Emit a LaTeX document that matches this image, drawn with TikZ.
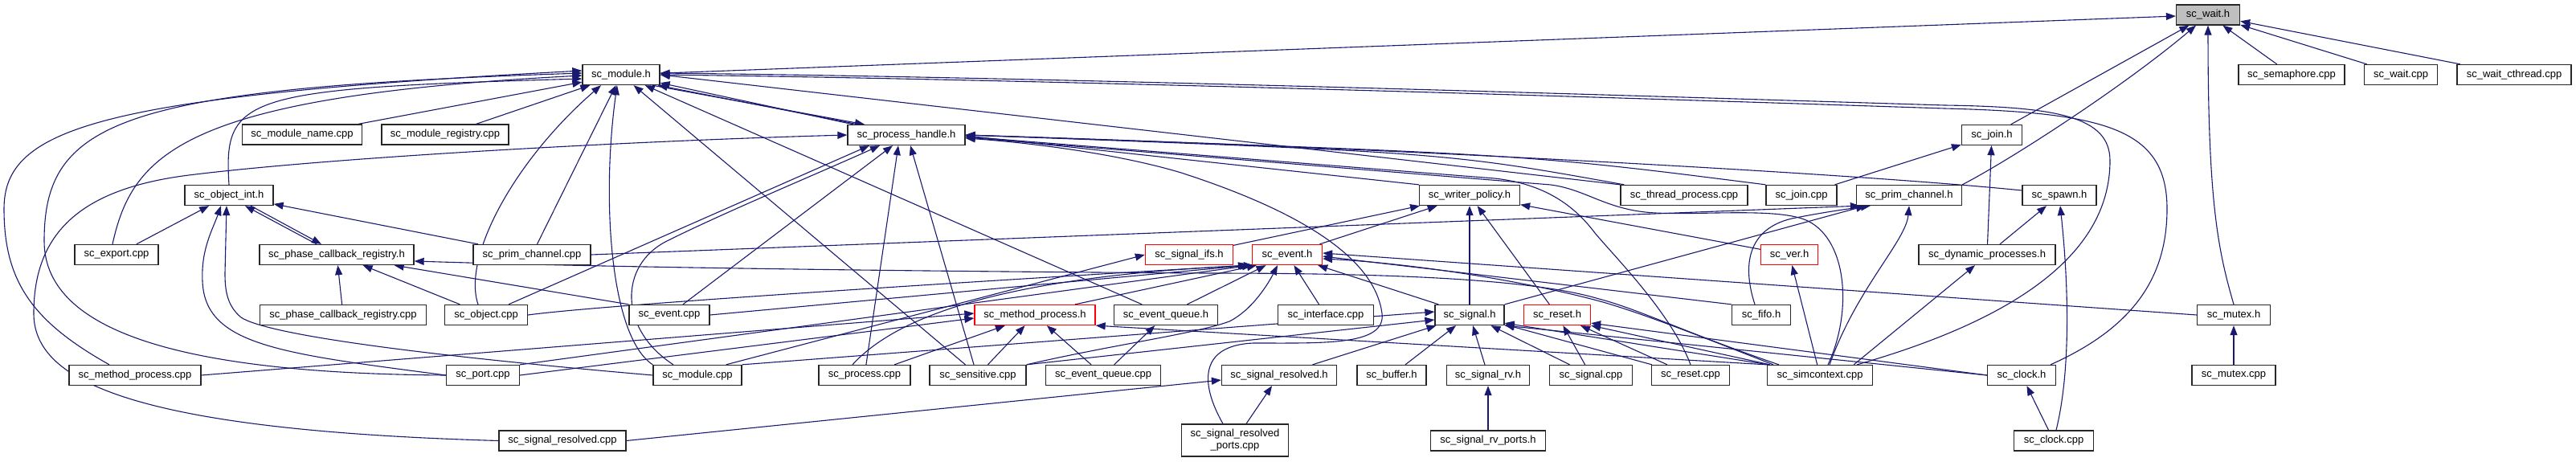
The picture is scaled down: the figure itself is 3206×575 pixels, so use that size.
\documentclass[tikz,border=0pt]{standalone}
\usepackage{fontspec}
\setmainfont{Liberation Sans}
\usetikzlibrary{arrows.meta}
\pgfdeclarelayer{bg}
\pgfsetlayers{bg,main}
\definecolor{edgec}{HTML}{191970}
\definecolor{grayfill}{HTML}{BFBFBF}
\tikzset{
  nd/.style={draw=black!85, line width=1.3pt, fill=white, rectangle, inner sep=0pt,
     minimum height=25pt, font=\fontsize{13}{15}\selectfont, text=black},
  rn/.style={nd, draw=red},
  lk/.style={draw=edgec, line width=1.1pt, -{Triangle[length=12pt,width=9pt]}}
}
\begin{document}
\begin{tikzpicture}[x=1pt,y=-1pt]
\useasboundingbox (0,0) rectangle (3206,575);
% row 0
\node[nd, fill=grayfill, minimum width=79pt] (wait) at (2748,18.5) {sc\_wait.h};
% row 1
\node[nd, minimum width=132pt] (semaphore) at (2852,93) {sc\_semaphore.cpp};
\node[nd, minimum width=91pt] (waitcpp) at (2988,93) {sc\_wait.cpp};
\node[nd, minimum width=142pt] (waitct) at (3129,93) {sc\_wait\_cthread.cpp};
\node[nd, minimum width=96pt] (module) at (773,93) {sc\_module.h};
% row 1.5
\node[nd, minimum width=149pt] (modname) at (376,167.5) {sc\_module\_name.cpp};
\node[nd, minimum width=158pt] (modreg) at (554,167.5) {sc\_module\_registry.cpp};
\node[nd, minimum width=146pt] (ph) at (1128,168) {sc\_process\_handle.h};
\node[nd, minimum width=75pt] (joinh) at (2479,168) {sc\_join.h};
% row 2
\node[nd, minimum width=110pt] (objint) at (285,243) {sc\_object\_int.h};
\node[nd, minimum width=125pt] (wp) at (1829,243) {sc\_writer\_policy.h};
\node[nd, minimum width=158pt] (thread) at (2096,243) {sc\_thread\_process.cpp};
\node[nd, minimum width=88pt] (joincpp) at (2242,243) {sc\_join.cpp};
\node[nd, minimum width=131pt] (primh) at (2376,243) {sc\_prim\_channel.h};
\node[nd, minimum width=92pt] (spawn) at (2563,243) {sc\_spawn.h};
% row 3
\node[nd, minimum width=104pt] (export) at (145,317) {sc\_export.cpp};
\node[nd, minimum width=192pt] (pcrh) at (419,317) {sc\_phase\_callback\_registry.h};
\node[nd, minimum width=146pt] (primcpp) at (662,317) {sc\_prim\_channel.cpp};
\node[rn, minimum width=109pt] (sigifs) at (1480,317) {sc\_signal\_ifs.h};
\node[rn, minimum width=87pt] (eventh) at (1602,317) {sc\_event.h};
\node[rn, minimum width=71pt] (ver) at (2227,317) {sc\_ver.h};
\node[nd, minimum width=170pt] (dyn) at (2473,317) {sc\_dynamic\_processes.h};
% row 4
\node[nd, minimum width=207pt] (pcrcpp) at (427,392) {sc\_phase\_callback\_registry.cpp};
\node[nd, minimum width=103pt] (objcpp) at (605,392) {sc\_object.cpp};
\node[nd, minimum width=100pt] (eventcpp) at (833,392) {sc\_event.cpp};
\node[rn, minimum width=150pt] (mph) at (1288,392) {sc\_method\_process.h};
\node[nd, minimum width=129pt] (eqh) at (1451,392) {sc\_event\_queue.h};
\node[nd, minimum width=119pt] (ifcpp) at (1650,392) {sc\_interface.cpp};
\node[nd, minimum width=86pt] (sigh) at (1829,392) {sc\_signal.h};
\node[rn, minimum width=83pt] (reseth) at (1938,392) {sc\_reset.h};
\node[nd, minimum width=73pt] (fifo) at (2192,392) {sc\_fifo.h};
\node[nd, minimum width=91pt] (mutexh) at (2780,392) {sc\_mutex.h};
% row 5
\node[nd, minimum width=164pt] (mpcpp) at (168,467) {sc\_method\_process.cpp};
\node[nd, minimum width=91pt] (port) at (601,467) {sc\_port.cpp};
\node[nd, minimum width=110pt] (modcpp) at (868,467) {sc\_module.cpp};
\node[nd, minimum width=114pt] (proccpp) at (1076,467) {sc\_process.cpp};
\node[nd, minimum width=120pt] (sens) at (1217,467) {sc\_sensitive.cpp};
\node[nd, minimum width=143pt] (eqcpp) at (1373,467) {sc\_event\_queue.cpp};
\node[nd, minimum width=143pt] (sigresh) at (1592,467) {sc\_signal\_resolved.h};
\node[nd, minimum width=86pt] (buffer) at (1732,467) {sc\_buffer.h};
\node[nd, minimum width=103pt] (sigrv) at (1852,467) {sc\_signal\_rv.h};
\node[nd, minimum width=103pt] (sigcpp) at (1980,467) {sc\_signal.cpp};
\node[nd, minimum width=97pt] (resetcpp) at (2104,467) {sc\_reset.cpp};
\node[nd, minimum width=131pt] (simctx) at (2265,467) {sc\_simcontext.cpp};
\node[nd, minimum width=85pt] (clockh) at (2516,467) {sc\_clock.h};
\node[nd, minimum width=104pt] (mutexcpp) at (2780,467) {sc\_mutex.cpp};
% row 6
\node[nd, minimum width=158pt] (sigrescpp) at (700,548.5) {sc\_signal\_resolved.cpp};
\node[nd, minimum width=133pt, minimum height=40pt, align=center] (srports) at (1537,548) {sc\_signal\_resolved\\\_ports.cpp};
\node[nd, minimum width=143pt] (rvports) at (1852,548.5) {sc\_signal\_rv\_ports.h};
\node[nd, minimum width=99pt] (clockcpp) at (2556,548.5) {sc\_clock.cpp};

\begin{pgfonlayer}{bg}
% ---- to sc_wait.h
\draw[lk] (module) -- (wait);
\draw[lk] (joinh) -- (wait);
\draw[lk] (primh.north east) .. controls (2500,200) and (2640,110) .. ([xshift=-15pt]wait.south);
\draw[lk] (mutexh.north) .. controls (2760,310) and (2748,250) .. (wait.south);
\draw[lk] (semaphore) -- (wait);
\draw[lk] (waitcpp) -- (wait);
\draw[lk] (waitct) -- (wait);
% ---- to sc_module.h
\draw[lk] ([xshift=-32pt]mpcpp.north) .. controls (40,400) and (5,350) .. (5,260) .. controls (5,160) and (120,120) .. ([yshift=5pt]module.west);
\draw[lk] (port.west) .. controls (250,465) and (55,420) .. (55,300) .. controls (55,150) and (150,110) .. ([yshift=2pt]module.west);
\draw[lk] ([xshift=-5pt]export.north) .. controls (165,190) and (230,120) .. ([yshift=-1pt]module.west);
\draw[lk] (objint.north) .. controls (278,120) and (300,110) .. ([yshift=-5pt]module.west);
\draw[lk] (modname) -- (module);
\draw[lk] (modreg) -- (module);
\draw[lk] ([xshift=-10pt]objcpp.north) .. controls (575,320) and (640,200) .. ([xshift=-25pt]module.south);
\draw[lk] (primcpp) -- (module);
\draw[lk] (modcpp.north west) .. controls (760,420) and (748,250) .. ([xshift=-5pt]module.south);
\draw[lk] (sens) -- (module);
\draw[lk] (eqh) -- (module);
\draw[lk] ([xshift=-66pt]ph.north) -- ([yshift=3pt]module.south east);
\draw[lk] ([xshift=-60pt]ph.north) -- ([xshift=-3pt]module.south east);
\draw[lk] ([xshift=-10pt]module.south east) -- ([xshift=-52pt]ph.north);
\draw[lk] (thread.north west) -- (module.east);
\draw[lk] ([xshift=-20pt]simctx.north east) .. controls (2500,400) and (2626,320) .. (2626,200) .. controls (2626,145) and (2560,133) .. (2420,131) .. controls (2000,118) and (1300,96) .. ([yshift=2pt]module.east);
\draw[lk] ([xshift=36pt]clockh.north) .. controls (2650,410) and (2697,350) .. (2697,260) .. controls (2697,160) and (2620,140) .. (2420,135) .. controls (2000,121) and (1300,99) .. (module.east);
% ---- to sc_process_handle.h
\draw[lk] (sigrescpp.west) .. controls (150,535) and (42,470) .. (42,390) .. controls (42,290) and (100,235) .. (235,218) .. controls (420,195) and (800,175) .. (ph.west);
\draw[lk] ([xshift=28pt]objcpp.north) -- ([xshift=-46pt]ph.south);
\draw[lk] ([xshift=17pt]eventcpp.north) -- ([xshift=-17pt]ph.south);
\draw[lk] ([xshift=-30pt]modcpp.north) .. controls (770,410) and (770,330) .. (830,300) .. controls (900,265) and (1020,215) .. ([xshift=-33pt]ph.south);
\draw[lk] (proccpp) -- ([xshift=-10pt]ph.south);
\draw[lk] ([xshift=-5pt]sens.north) -- ([xshift=5pt]ph.south);
\draw[lk] ([xshift=5pt]thread.north west) .. controls (1800,190) .. (ph.east);
\draw[lk] (joincpp.north west) .. controls (1900,192) .. (ph.east);
\draw[lk] ([yshift=6pt]spawn.west) .. controls (2300,215) and (1700,183) .. (ph.east);
\draw[lk] ([xshift=10pt]simctx.north) .. controls (2305,390) and (2300,300) .. (2250,275) .. controls (2215,258) and (2120,268) .. (2060,265) .. controls (2000,262) and (1975,236) .. (1930,230) -- ([yshift=-3pt]ph.east);
\draw[lk] (resetcpp.north) .. controls (2080,390) and (2010,320) .. (1985,290) .. controls (1955,250) and (1915,228) .. (1860,222) -- ([yshift=-2pt]ph.east);
\draw[lk] ([xshift=-15pt]srports.north) .. controls (1495,480) and (1490,430) .. (1560,427) .. controls (1650,427) and (1725,430) .. (1720,390) .. controls (1712,330) and (1640,270) .. (1470,215) .. controls (1380,188) and (1260,176) .. ([yshift=-4pt]ph.east);
\draw[lk] (wp.north west) -- ([yshift=-1pt]ph.east);
% ---- to sc_object_int.h
\draw[lk] (export) -- (objint);
\draw[lk] (port.west) .. controls (350,440) and (255,430) .. (252,350) .. controls (250,310) and (265,285) .. ([xshift=-10pt]objint.south);
\draw[lk] (modcpp.west) .. controls (500,440) and (330,415) .. (300,395) .. controls (282,380) and (280,360) .. (280,340) -- ([xshift=-3pt]objint.south);
\draw[lk] ([xshift=-25pt]pcrh.north) -- ([xshift=20pt]objint.south);
\draw[lk] ([xshift=27pt]objint.south) -- ([xshift=-19pt]pcrh.north);
\draw[lk] (primcpp) -- (objint);
% ---- to sc_phase_callback_registry.h
\draw[lk] (pcrcpp) -- (pcrh);
\draw[lk] (objcpp) -- (pcrh);
\draw[lk] (eventcpp.north west) -- ([xshift=-25pt]pcrh.south east);
\draw[lk] ([xshift=15pt]simctx.north west) .. controls (2100,415) and (2040,385) .. (1990,372) .. controls (1900,345) and (1700,340) .. (1500,340) .. controls (1200,338) and (800,334) .. ([yshift=-8pt]pcrh.east);
% ---- to sc_signal_ifs.h
\draw[lk] ([xshift=-20pt]modcpp.north east) -- (sigifs.west);
% ---- to sc_event.h
\draw[lk] (objcpp.east) .. controls (760,378) and (1300,345) .. ([xshift=-5pt]eventh.south west);
\draw[lk] (eventcpp.east) -- ([xshift=-3pt]eventh.south west);
\draw[lk] (port.north east) -- (eventh.south west);
\draw[lk] ([xshift=-15pt]proccpp.north) .. controls (1110,400) and (1230,345) .. ([xshift=2pt]eventh.south west);
\draw[lk] ([xshift=50pt]mph.north) -- ([xshift=6pt]eventh.south west);
\draw[lk] (eqh) -- (eventh);
\draw[lk] (sens.north east) .. controls (1380,430) and (1490,415) .. (1530,400) .. controls (1560,385) and (1580,350) .. ([xshift=-12pt]eventh.south);
\draw[lk] (ifcpp) -- (eventh);
\draw[lk] ([xshift=5pt]sigh.north west) -- ([xshift=-6pt]eventh.south east);
\draw[lk] (fifo.north west) -- ([yshift=-2pt]eventh.east);
\draw[lk] (mutexh.west) -- ([yshift=2pt]eventh.east);
\draw[lk] ([xshift=8pt]simctx.north west) .. controls (2120,420) and (2050,392) .. (1995,376) .. controls (1900,350) and (1760,328) .. ([yshift=-5pt]eventh.east);
% ---- to sc_method_process.h
\draw[lk] (mpcpp.east) -- ([yshift=2pt]mph.west);
\draw[lk] (port.east) -- ([yshift=-4pt]mph.west);
\draw[lk] (proccpp) -- (mph);
\draw[lk] (sens) -- (mph);
\draw[lk] (eqcpp) -- (mph);
\draw[lk] (simctx.north west) -- (mph.south east);
% ---- to sc_event_queue.h
\draw[lk] (eqcpp) -- (eqh);
% ---- to sc_signal_resolved.h
\draw[lk] (srports) -- (sigresh);
\draw[lk] (sigrescpp.east) -- ([yshift=-6pt]sigresh.west);
% ---- to sc_signal.h
\draw[lk] (sigresh) -- (sigh);
\draw[lk] (buffer) -- (sigh);
\draw[lk] (sigrv) -- (sigh);
\draw[lk] (sigcpp) -- (sigh);
\draw[lk] (resetcpp) -- (sigh);
\draw[lk] ([xshift=2pt]simctx.north west) -- ([yshift=3pt]sigh.south east);
\draw[lk] (clockh.west) -- (sigh.south east);
\draw[lk] (modcpp.north east) -- ([yshift=4pt]sigh.west);
\draw[lk] (sens.north east) -- ([yshift=-6pt]sigh.west);
% ---- to sc_signal_rv.h
\draw[lk] (rvports) -- (sigrv);
% ---- to sc_reset.h
\draw[lk] (sigcpp) -- (reseth);
\draw[lk] (resetcpp) -- (reseth);
\draw[lk] ([xshift=4pt]simctx.north west) -- (reseth.south east);
\draw[lk] (clockh.west) -- ([yshift=3pt]reseth.south east);
% ---- to sc_writer_policy.h
\draw[lk] (reseth) -- (wp);
\draw[lk] (sigh) -- (wp);
\draw[lk] (sigifs) -- (wp);
\draw[lk] (eventh) -- (wp);
\draw[lk] (ver) -- (wp);
% ---- to sc_ver.h
\draw[lk] (simctx) -- (ver);
% ---- to sc_prim_channel.h
\draw[lk] (primcpp.east) -- ([xshift=5pt]primh.south west);
\draw[lk] (sigh.north east) -- ([xshift=12pt]primh.south west);
\draw[lk] ([xshift=-8pt]fifo.north) .. controls (2168,330) and (2175,285) .. (2230,272) .. controls (2270,264) and (2300,260) .. ([xshift=18pt]primh.south west);
\draw[lk] ([xshift=12pt]simctx.north) .. controls (2310,360) and (2372,300) .. (primh.south);
% ---- join, spawn, dynamic, clock, mutex
\draw[lk] (joincpp) -- (joinh);
\draw[lk] (dyn) -- (joinh);
\draw[lk] (dyn) -- (spawn);
\draw[lk] ([xshift=3pt]clockcpp.north) .. controls (2580,450) and (2572,330) .. ([xshift=1pt]spawn.south);
\draw[lk] ([xshift=-24pt]simctx.north east) -- ([xshift=-15pt]dyn.south);
\draw[lk] (clockcpp) -- (clockh);
\draw[lk] (mutexcpp) -- (mutexh);
\end{pgfonlayer}
\end{tikzpicture}
\end{document}
